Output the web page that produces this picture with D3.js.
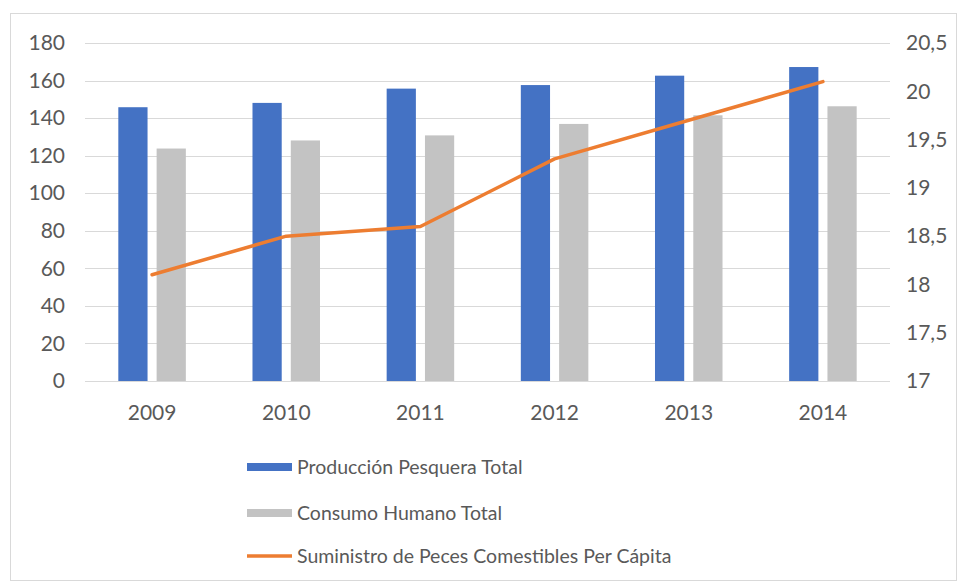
<!DOCTYPE html>
<html>
<head>
<meta charset="utf-8">
<script src="https://cdn.jsdelivr.net/npm/d3@7"></script>
<style>
  html, body { margin: 0; padding: 0; background: #fff; }
  svg { display: block; }
  text { font-family: Lato, "Open Sans", sans-serif; fill: #595959; }
</style>
</head>
<body>
<svg id="chart" width="960" height="584"></svg>
<script>
// Years on the category axis
const years = ["2009", "2010", "2011", "2012", "2013", "2014"];
// Total fishery production (million tonnes)
const produccion = [145.8, 148.1, 155.7, 157.6, 162.6, 167.2];
// Total human consumption (million tonnes)
const consumo = [123.8, 128.1, 130.8, 136.9, 141.5, 146.3];
// Per-capita food fish supply (kg)
const perCapita = [18.1, 18.5, 18.6, 19.3, 19.7, 20.1];
// Axis ticks
const leftTicks = [0, 20, 40, 60, 80, 100, 120, 140, 160, 180];
const rightTicks = [17, 17.5, 18, 18.5, 19, 19.5, 20, 20.5];
const seriesNames = ["Producción Pesquera Total", "Consumo Humano Total", "Suministro de Peces Comestibles Per Cápita"];

const colors = { blue: "#4472c4", gray: "#c3c3c3", orange: "#ed7d31", grid: "#d9d9d9" };

const svg = d3.select("#chart");
const plot = { left: 85, right: 890, top: 43, bottom: 381 };

// Chart frame
svg.append("rect")
  .attr("x", 10.5).attr("y", 13.5)
  .attr("width", 946).attr("height", 567)
  .attr("fill", "#fff").attr("stroke", "#d9d9d9").attr("stroke-width", 1);

const x = d3.scaleBand().domain(years).range([plot.left, plot.right]).paddingInner(0).paddingOuter(0);
const x1 = d3.scaleBand().domain(["p", "c"]).range([0, x.bandwidth()]).paddingInner(0.237).paddingOuter(0.87);
const yL = d3.scaleLinear().domain([0, 180]).range([plot.bottom, plot.top]);
const yR = d3.scaleLinear().domain([17, 20.5]).range([plot.bottom, plot.top]);

// Horizontal gridlines
svg.append("g").selectAll("line").data(leftTicks).join("line")
  .attr("x1", plot.left).attr("x2", plot.right)
  .attr("y1", d => Math.round(yL(d)) + 0.5).attr("y2", d => Math.round(yL(d)) + 0.5)
  .attr("stroke", colors.grid).attr("stroke-width", 1);

// Left axis
const axL = svg.append("g").attr("transform", `translate(${plot.left},0)`)
  .call(d3.axisLeft(yL).tickValues(leftTicks).tickSize(0).tickPadding(20).tickFormat(d3.format("d")));
axL.select(".domain").remove();
axL.selectAll("text").style("font-size", "21px").attr("fill", "#595959");

// Right axis
const axR = svg.append("g").attr("transform", `translate(${plot.right},0)`)
  .call(d3.axisRight(yR).tickValues(rightTicks).tickSize(0).tickPadding(16)
    .tickFormat(d => String(d).replace(".", ",")));
axR.select(".domain").remove();
axR.selectAll("text").style("font-size", "21px").attr("fill", "#595959");

// Bottom axis
const axB = svg.append("g").attr("transform", `translate(0,${plot.bottom})`)
  .call(d3.axisBottom(x).tickSize(0).tickPadding(24));
axB.select(".domain").remove();
axB.selectAll("text").style("font-size", "21px").attr("fill", "#595959");

// Bars
const groups = svg.append("g").selectAll("g").data(years).join("g")
  .attr("transform", d => `translate(${x(d)},0)`);
groups.append("rect")
  .attr("x", x1("p")).attr("width", x1.bandwidth())
  .attr("y", (d, i) => yL(produccion[i])).attr("height", (d, i) => yL(0) - yL(produccion[i]))
  .attr("fill", colors.blue);
groups.append("rect")
  .attr("x", x1("c")).attr("width", x1.bandwidth())
  .attr("y", (d, i) => yL(consumo[i])).attr("height", (d, i) => yL(0) - yL(consumo[i]))
  .attr("fill", colors.gray);

// Per-capita line on the secondary axis
const line = d3.line()
  .x((d, i) => x(years[i]) + x.bandwidth() / 2)
  .y(d => yR(d));
svg.append("path").datum(perCapita)
  .attr("d", line)
  .attr("fill", "none").attr("stroke", colors.orange)
  .attr("stroke-width", 3.5).attr("stroke-linejoin", "round").attr("stroke-linecap", "round");

// Legend
const legend = svg.append("g").attr("transform", "translate(247,0)");
const items = [
  { name: seriesNames[0], type: "bar", color: colors.blue, y: 467 },
  { name: seriesNames[1], type: "bar", color: colors.gray, y: 513 },
  { name: seriesNames[2], type: "line", color: colors.orange, y: 556 }
];
items.forEach(it => {
  if (it.type === "bar") {
    legend.append("rect").attr("x", 0).attr("y", it.y - 4).attr("width", 45).attr("height", 8).attr("fill", it.color);
  } else {
    legend.append("line").attr("x1", 0).attr("x2", 45).attr("y1", it.y).attr("y2", it.y)
      .attr("stroke", it.color).attr("stroke-width", 3.5);
  }
  legend.append("text").attr("x", 50).attr("y", it.y + 7)
    .style("font-size", "19.5px").text(it.name);
});
</script>
</body>
</html>
